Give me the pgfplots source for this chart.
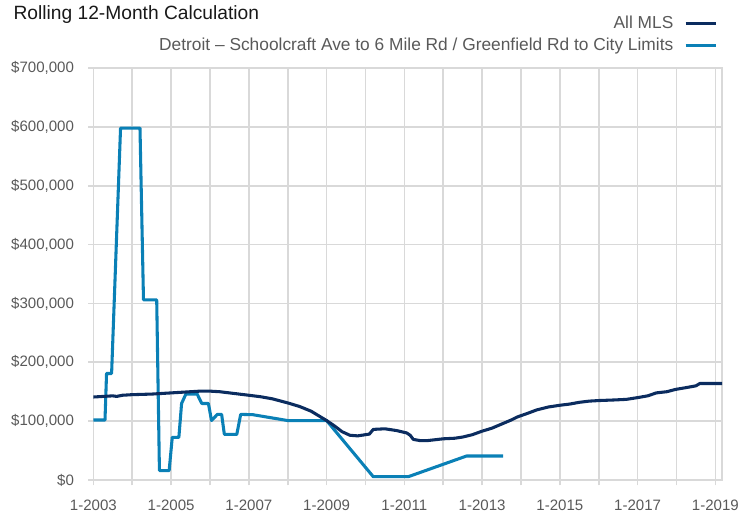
\documentclass[border=0pt]{standalone}
\usepackage{fontspec}
\setmainfont{Liberation Sans}
\usepackage{pgfplots}
\pgfplotsset{compat=1.18}
\definecolor{gridgray}{HTML}{D9D9D9}
\definecolor{textgray}{HTML}{595959}
\definecolor{mlsnavy}{HTML}{0B2C5F}
\definecolor{detblue}{HTML}{0A80B6}
\begin{document}
\begin{tikzpicture}
\begin{axis}[
  at={(0,0)}, anchor=south west,
  scale only axis, width=471.5pt, height=309pt,
  xmin=2003, xmax=2019.17, ymin=0, ymax=700000,
  xtick={2003,2005,...,2019},
  xticklabels={1-2003,1-2005,1-2007,1-2009,1-2011,1-2013,1-2015,1-2017,1-2019},
  minor xtick={2004,2006,...,2018},
  ytick={0,100000,...,700000},
  scaled y ticks=false,
  yticklabel={\$\pgfmathprintnumber[fixed,precision=0,1000 sep={,}]{\tick}},
  /pgf/number format/assume math mode=true,
  grid=both,
  major grid style={gridgray, line width=1.2pt},
  minor grid style={gridgray, line width=1.2pt},
  axis line style={gridgray, line width=1.2pt},
  every tick/.style={gridgray, line width=1.2pt},
  tick align=outside, major tick length=4pt, minor tick length=4pt,
  xtick pos=lower, ytick pos=left,
  tick label style={font=\fontsize{11.3pt}{13pt}\selectfont, text=textgray},
  yticklabel style={xshift=-7pt},
  xticklabel style={yshift=-7.5pt},
  legend plot pos=right,
  reverse legend,
  legend cell align=right,
  legend style={draw=none, fill=none, at={(1,1)}, anchor=south east,
    xshift=0pt, yshift=8pt,
    font=\fontsize{13pt}{15pt}\selectfont, text=textgray,
    row sep=3.5pt,
    nodes={inner sep=0pt, text height=10pt, text depth=3pt},
    /tikz/every odd column/.style={column sep=8pt}},
  legend image code/.code={\draw[#1, line width=2.3pt] (0pt,0pt) -- (23pt,0pt);},
]
\addplot[detblue, line width=2.3pt, line join=round] coordinates {
(2003.0,102000) (2003.3,102000) (2003.34,181000) (2003.47,181000)
(2003.7,598000) (2004.2,598000) (2004.29,306000) (2004.63,306000)
(2004.70,16000) (2004.95,16000) (2005.03,72500) (2005.2,72500)
(2005.27,130000) (2005.38,146000) (2005.67,146000) (2005.79,130000)
(2005.96,130000) (2006.04,101000) (2006.19,111500) (2006.3,111500)
(2006.37,77500) (2006.69,77500) (2006.79,111500) (2007.1,111000)
(2008.0,101000) (2009.0,101000) (2010.2,5600) (2011.1,5600)
(2012.6,40800) (2013.54,40800)
};
\addlegendentry{Detroit -- Schoolcraft Ave to 6 Mile Rd / Greenfield Rd to City Limits}
\addplot[mlsnavy, line width=2.3pt, line join=round] coordinates {
(2003.0,141000) (2003.25,142000) (2003.5,143000) (2003.6,142000)
(2003.75,144000) (2004.0,145000) (2004.5,146000) (2005.0,148000)
(2005.25,149000) (2005.5,150000) (2005.75,151000) (2006.0,151000)
(2006.25,150000) (2006.5,148000) (2006.75,146000) (2007.0,144000)
(2007.3,141500) (2007.6,138000) (2008.0,131000) (2008.3,125000)
(2008.6,117000) (2009.0,101000) (2009.2,92000) (2009.4,82000)
(2009.6,76000) (2009.8,75000) (2010.1,78000) (2010.2,86000)
(2010.5,87000) (2010.8,84000) (2011.06,80000) (2011.15,76000)
(2011.23,69000) (2011.4,67000) (2011.6,67000) (2012.0,70000)
(2012.3,71000) (2012.5,73000) (2012.75,77000) (2013.0,83000)
(2013.25,88000) (2013.5,95000) (2013.75,102000) (2013.9,107000)
(2014.2,114000) (2014.4,119000) (2014.7,124000) (2015.0,127000)
(2015.25,129000) (2015.5,132000) (2015.75,134000) (2016.0,135000)
(2016.4,136000) (2016.71,137000) (2017.0,140000) (2017.26,143000)
(2017.48,148000) (2017.75,150000) (2017.98,154000) (2018.25,157000)
(2018.5,160000) (2018.6,164000) (2019.17,164000)
};
\addlegendentry{All MLS}
\end{axis}
\node[anchor=base west, inner sep=0pt, font=\fontsize{14.4pt}{17pt}\selectfont, text=black!90] at (-60pt,345pt) {Rolling 12-Month Calculation};
\pgfresetboundingbox
\useasboundingbox (-70pt,-26.25pt) rectangle (496.25pt,360pt);
\end{tikzpicture}
\end{document}
